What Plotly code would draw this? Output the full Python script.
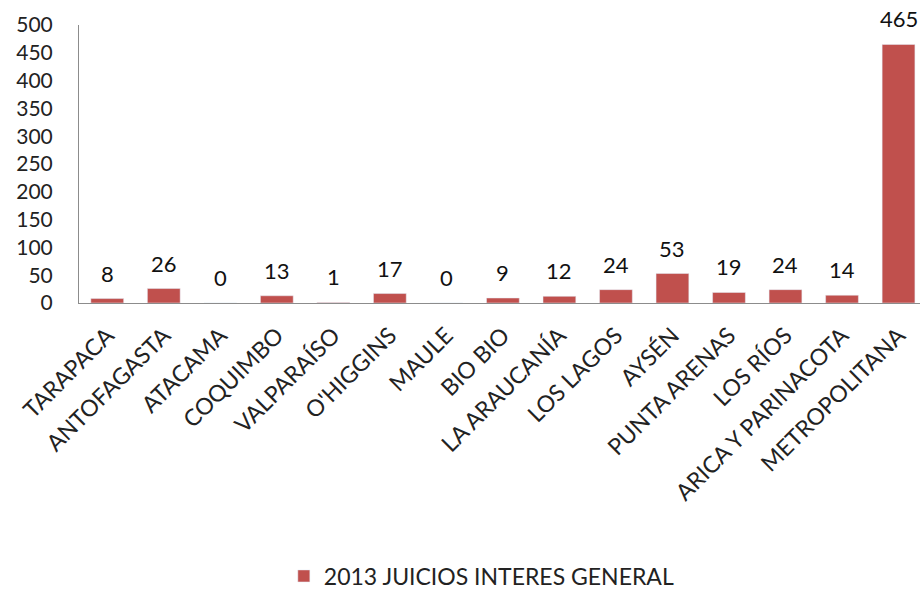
import plotly.graph_objects as go

categories = ["TARAPACA", "ANTOFAGASTA", "ATACAMA", "COQUIMBO", "VALPARAÍSO", "O'HIGGINS",
              "MAULE", "BIO BIO", "LA ARAUCANÍA", "LOS LAGOS", "AYSÉN", "PUNTA ARENAS",
              "LOS RÍOS", "ARICA Y PARINACOTA", "METROPOLITANA"]
values = [8, 26, 0, 13, 1, 17, 0, 9, 12, 24, 53, 19, 24, 14, 465]
series_name = "2013 JUICIOS INTERES GENERAL"
y_ticks = [0, 50, 100, 150, 200, 250, 300, 350, 400, 450, 500]

FONT = "Lato, 'Open Sans', sans-serif"
RED = "#C0504D"

fig = go.Figure(go.Bar(
    x=categories, y=values, name=series_name,
    marker=dict(color=RED),
))

for c, v in zip(categories, values):
    fig.add_annotation(x=c, y=v, text=str(v), showarrow=False,
                       xanchor="center", yanchor="bottom", yshift=10,
                       font=dict(family=FONT, size=22, color="#111111"))

fig.update_layout(
    width=920, height=590,
    margin=dict(l=79, r=0, t=25, b=287, autoexpand=False),
    paper_bgcolor="white", plot_bgcolor="white",
    bargap=0.42,
    showlegend=True,
    legend=dict(orientation="h", x=0.479, xanchor="center", y=-0.982, yanchor="middle",
                font=dict(family=FONT, size=23, color="#222222")),
    font=dict(family=FONT, color="#222222"),
)
fig.update_xaxes(
    type="category", range=[-0.5, 14.38], automargin=False,
    tickangle=-45, tickfont=dict(family=FONT, size=23, color="#222222"),
    showline=True, linecolor="#8c8c8c", linewidth=1,
    showgrid=False, ticks="", ticklabelstandoff=9,
)
fig.update_yaxes(
    range=[0, 500], tickvals=y_ticks, automargin=False,
    tickfont=dict(family=FONT, size=21, color="#222222"),
    showline=True, linecolor="#8c8c8c", linewidth=1,
    showgrid=False, zeroline=False, ticks="",
    ticklabelstandoff=21,
)

fig.write_html(
    "out.html",
    config={"displayModeBar": False},
    post_script="document.body.style.margin='0';document.body.style.overflow='hidden';",
)
